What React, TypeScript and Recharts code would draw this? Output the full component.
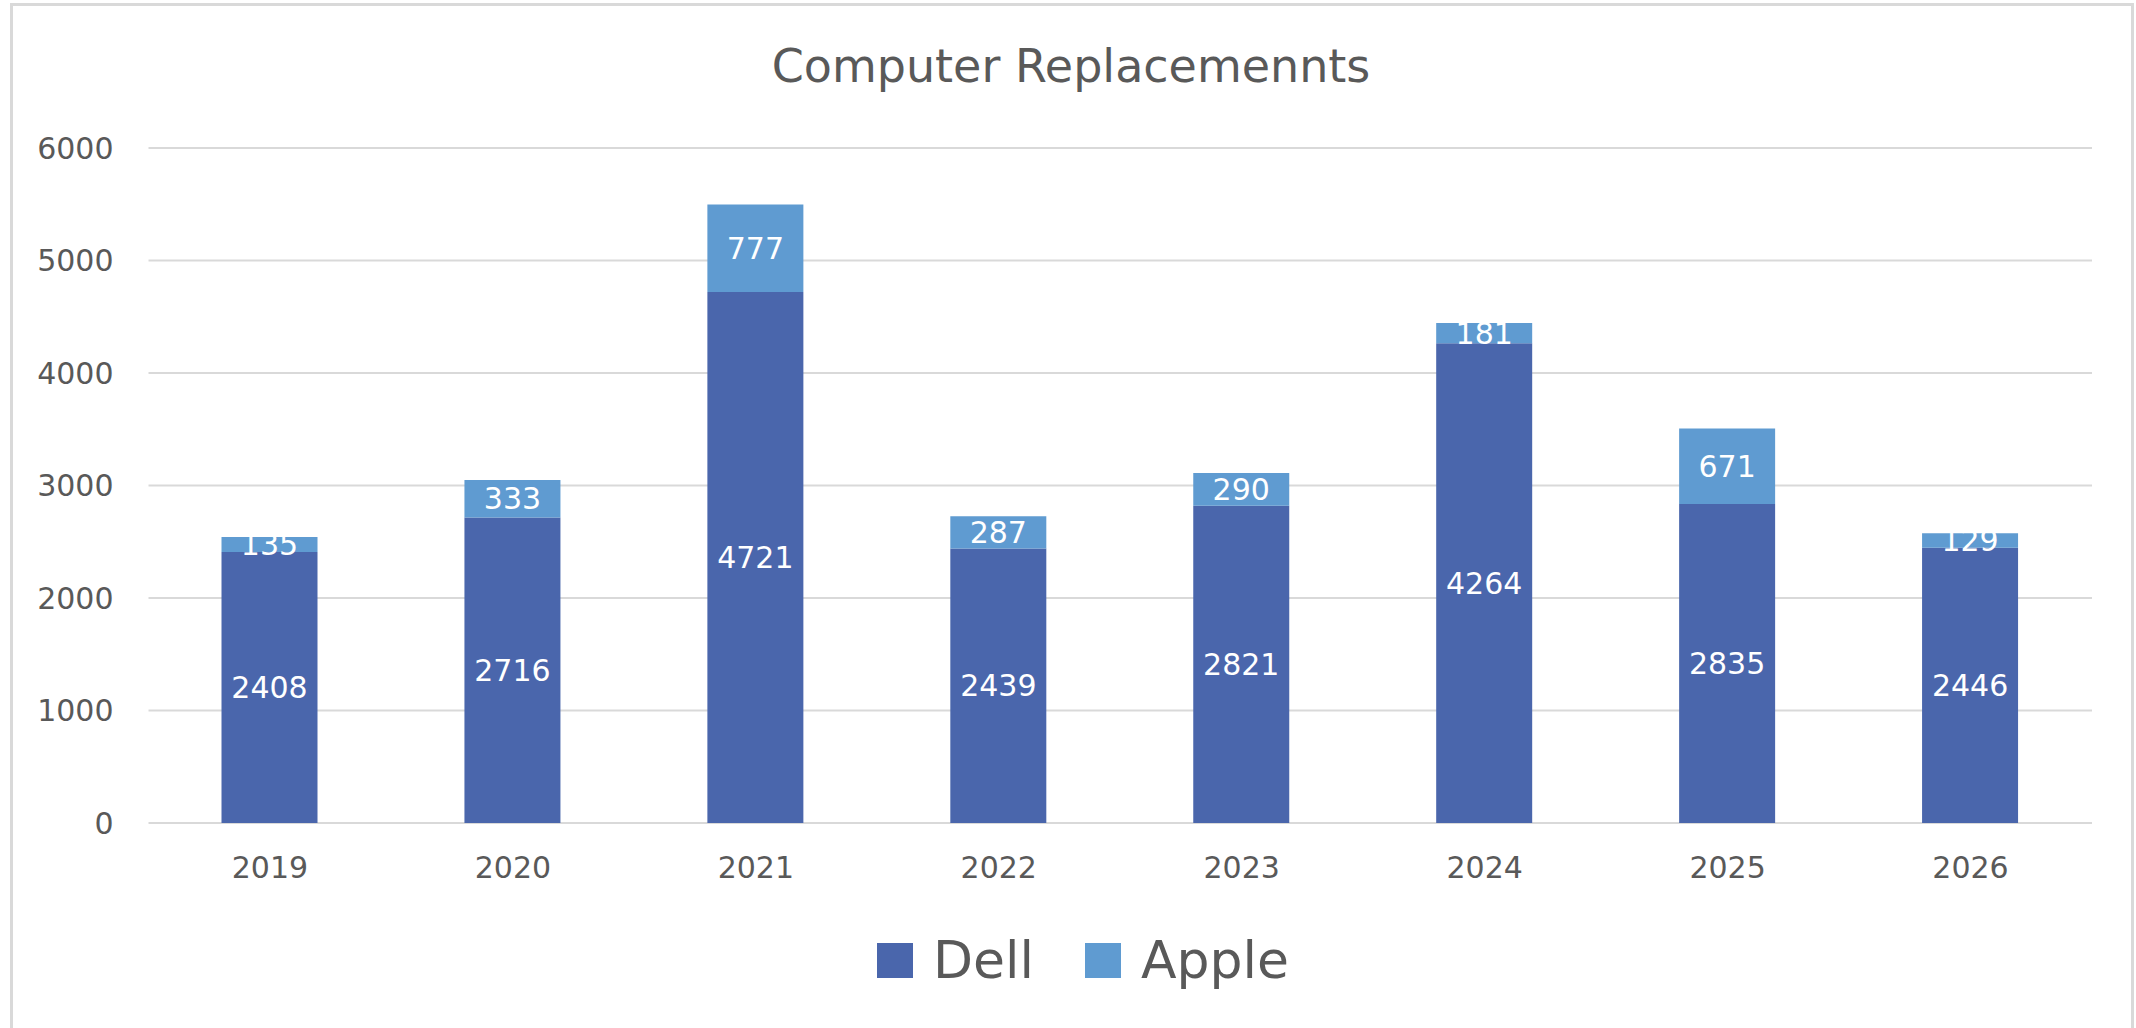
import React from 'react';
import { BarChart, Bar, XAxis, YAxis, CartesianGrid, Legend, LabelList } from 'recharts';

const years = ['2019', '2020', '2021', '2022', '2023', '2024', '2025', '2026'];
const dell = [2408, 2716, 4721, 2439, 2821, 4264, 2835, 2446];
const apple = [135, 333, 777, 287, 290, 181, 671, 129];
const yTicks = [0, 1000, 2000, 3000, 4000, 5000, 6000];

const DELL_COLOR = '#4A66AC';
const APPLE_COLOR = '#5F9BD1';
const TEXT_COLOR = '#595959';
const FONT = '"DejaVu Sans", sans-serif';

const data = years.map((year, i) => ({ year, Dell: dell[i], Apple: apple[i] }));

const LegendContent = () => {
  const items = [
    { name: 'Dell', color: DELL_COLOR },
    { name: 'Apple', color: APPLE_COLOR },
  ];
  return (
    <div style={{ display: 'flex', justifyContent: 'center', alignItems: 'center', height: 70 }}>
      {items.map((it, i) => (
        <div key={it.name} style={{ display: 'flex', alignItems: 'center', marginLeft: i === 0 ? 0 : 51 }}>
          <div style={{ width: 36, height: 35, background: it.color }} />
          <span style={{ marginLeft: 20, fontSize: 52, fontFamily: FONT, color: TEXT_COLOR, lineHeight: '60px' }}>
            {it.name}
          </span>
        </div>
      ))}
    </div>
  );
};

export default function App() {
  return (
    <div style={{ position: 'fixed', left: 0, top: 0, width: 2136, height: 1028, overflow: 'hidden', background: '#fff' }}>
      <div
        style={{
          position: 'absolute',
          left: 10,
          top: 3,
          width: 2124,
          height: 1100,
          border: '3px solid #d9d9d9',
          boxSizing: 'border-box',
        }}
      />
      <div
        style={{
          position: 'absolute',
          left: 0,
          top: 43,
          width: 2142,
          textAlign: 'center',
          fontFamily: FONT,
          fontSize: 46,
          lineHeight: '46px',
          color: TEXT_COLOR,
        }}
      >
        Computer Replacemennts
      </div>
      <div style={{ position: 'absolute', left: 0, top: 0 }}>
        <BarChart
          width={2136}
          height={1028}
          data={data}
          margin={{ top: 148, right: 44, bottom: 145, left: 0 }}
          barSize={96}
        >
          <CartesianGrid vertical={false} stroke="#d9d9d9" strokeWidth={2} />
          <XAxis
            dataKey="year"
            axisLine={false}
            tickLine={false}
            tickSize={0}
            tickMargin={34}
            height={60}
            tick={{ fill: TEXT_COLOR, fontSize: 30, fontFamily: FONT }}
          />
          <YAxis
            domain={[0, 6000]}
            ticks={yTicks}
            axisLine={false}
            tickLine={false}
            tickSize={0}
            tickMargin={35}
            width={148.5}
            tick={{ fill: TEXT_COLOR, fontSize: 30, fontFamily: FONT }}
          />
          <Legend
            layout="horizontal"
            verticalAlign="middle"
            align="center"
            content={<LegendContent />}
            wrapperStyle={{ top: 925, left: 30, width: 2106, height: 70 }}
          />
          <Bar dataKey="Dell" stackId="a" fill={DELL_COLOR} isAnimationActive={false}>
            <LabelList dataKey="Dell" position="center" fill="#ffffff" fontSize={30} fontFamily={FONT} />
          </Bar>
          <Bar dataKey="Apple" stackId="a" fill={APPLE_COLOR} isAnimationActive={false}>
            <LabelList dataKey="Apple" position="center" fill="#ffffff" fontSize={30} fontFamily={FONT} />
          </Bar>
        </BarChart>
      </div>
    </div>
  );
}
